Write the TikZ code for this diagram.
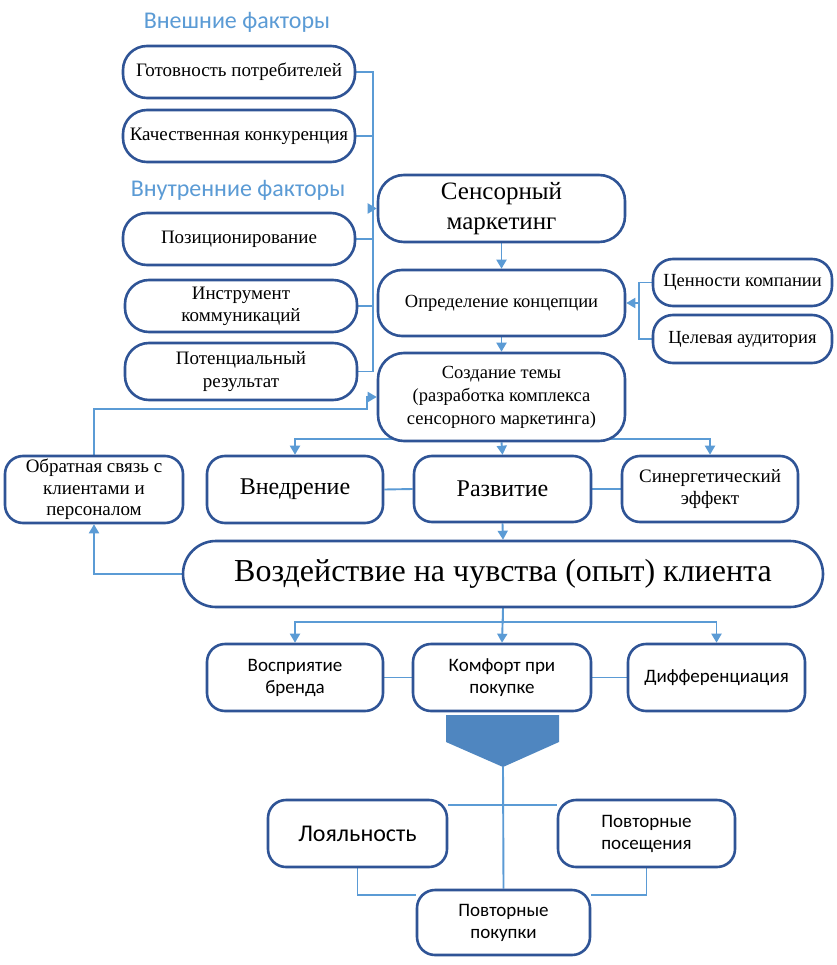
\documentclass[tikz,border=0pt]{standalone}
\usepackage{fontspec}
\setmainfont{Liberation Serif}
\newfontfamily\calfont{Carlito}
\usetikzlibrary{arrows.meta,backgrounds}
\definecolor{bord}{HTML}{2F5496}
\definecolor{conn}{HTML}{5B9BD5}
\definecolor{chev}{HTML}{4F86C0}
\definecolor{ttl}{HTML}{5B9BD5}
\tikzset{
  box/.style={draw=bord, line width=2.6pt, fill=white, rounded corners=#1, align=center, inner sep=0pt, text=black},
  box/.default=18pt,
  sz/.style 2 args={minimum width=#1pt, minimum height=#2pt},
  ttlstyle/.style={text=ttl, font=\calfont\fontsize{24}{27}\selectfont, inner sep=0pt},
  cline/.style={draw=conn, line width=1.9pt},
  arr/.style={cline, -{Triangle[length=9pt,width=10pt]}},
  sans/.style={font=\calfont\fontsize{19}{22}\selectfont},
}
\begin{document}
\begin{tikzpicture}[x=1pt,y=-1pt]
\useasboundingbox (0,0) rectangle (836,965);
% titles
\node[ttlstyle] (ext) at (237,22) {Внешние факторы};
\node[ttlstyle] (int) at (238,190) {Внутренние факторы};
% left factor boxes
\node[box=24pt, sz={232}{52}, font=\fontsize{19}{22}\selectfont] (ready) at (239,72) {Готовность потребителей};
\node[box=24pt, sz={232}{52}, font=\fontsize{19}{22}\selectfont] (compet) at (239,136) {Качественная конкуренция};
\node[box=24pt, sz={232}{52}, font=\fontsize{19}{22}\selectfont] (pos) at (239,239) {Позиционирование};
\node[box=24pt, sz={232}{52}, font=\fontsize{19}{22}\selectfont] (instr) at (241,306) {Инструмент\\коммуникаций};
\node[box=24pt, sz={232}{57}, font=\fontsize{19}{23}\selectfont] (pot) at (241,371.5) {Потенциальный\\результат};
% central column
\node[box=26pt, sz={247}{67}, font=\fontsize{25}{30}\selectfont] (sens) at (501.5,208.5) {Сенсорный\\маркетинг};
\node[box=24pt, sz={247}{66}, font=\fontsize{18.5}{22}\selectfont] (concept) at (501.5,303) {Определение концепции};
\node[box=26pt, sz={247}{88}, font=\fontsize{18.5}{23}\selectfont] (theme) at (501.5,397) {Создание темы\\(разработка комплекса\\сенсорного маркетинга)};
\node[box=20pt, sz={179}{47}, font=\fontsize{18.5}{22}\selectfont] (values) at (742.5,282.5) {Ценности компании};
\node[box=20pt, sz={179}{48}, font=\fontsize{18.5}{22}\selectfont] (aud) at (742.5,339) {Целевая аудитория};
% middle row
\node[box=18pt, sz={178}{67}, font=\fontsize{19}{21.7}\selectfont] (fb) at (94,489.5) {Обратная связь с\\клиентами и\\персоналом};
\node[box=18pt, sz={176}{67}, font=\fontsize{24}{28}\selectfont] (impl) at (295,489.5) {Внедрение};
\node[box=18pt, sz={177}{66}, font=\fontsize{24}{28}\selectfont] (devel) at (502.5,489) {Развитие};
\node[box=18pt, sz={176}{66}, font=\fontsize{19}{22}\selectfont] (syn) at (710,489) {Синергетический\\эффект};
\node[box=33pt, sz={640}{66}, font=\fontsize{32}{36}\selectfont] (impact) at (503,574) {Воздействие на чувства (опыт) клиента};
% lower rows
\node[box=18pt, sz={176}{67}, sans] (brand) at (295,677.5) {Восприятие\\бренда};
\node[box=18pt, sz={178}{67}, sans] (comfort) at (502,677.5) {Комфорт при\\покупке};
\node[box=18pt, sz={177}{67}, sans] (diff) at (716.5,677.5) {Дифференциация};
\fill[chev] (446,715) -- (559,715) -- (559,742) -- (503,767) -- (446,742) -- cycle;
\coordinate (chevtip) at (503,767);
\node[box=18pt, sz={179}{67}, font=\calfont\fontsize{24}{27}\selectfont] (loyal) at (357.5,833.5) {Лояльность};
\node[box=18pt, sz={177}{67}, sans] (visits) at (646.5,833.5) {Повторные\\посещения};
\node[box=18pt, sz={173}{65}, sans] (purch) at (503.5,922.5) {Повторные\\покупки};
% helper coordinates
\coordinate (bus) at (373,0);
\coordinate (rbus) at (639,0);
\coordinate (fbj) at (367,409);
\coordinate (tb) at (0,439);
\coordinate (db) at (0,622);
\coordinate (j1) at (503,805);
\coordinate (j2) at (0,895);
\begin{scope}[on background layer]
\fill[white] (0,0) rectangle (836,965);
% left bus
\draw[cline] (ready.east) -- (ready.east -| bus) -- (pot.east -| bus) -- (pot.east);
\draw[cline] (compet.east) -- (compet.east -| bus);
\draw[cline] (pos.east) -- (pos.east -| bus);
\draw[cline] (instr.east) -- (instr.east -| bus);
\draw[arr] (sens.west -| bus) -- (sens.west);
% central column
\draw[arr] (sens.south) -- (concept.north);
\draw[arr] (concept.south) -- (theme.north);
% right bus
\draw[cline] (values.west) -- (values.west -| rbus) -- (aud.west -| rbus) -- (aud.west);
\draw[arr] (concept.east -| rbus) -- (concept.east);
% feedback loop
\draw[arr] (fb.north) |- (fbj) |- (theme.west);
\draw[arr] (impact.west) -| (fb.south);
% theme distribution
\draw[arr] (theme.center |- tb) -| (impl.north);
\draw[arr] (theme.center |- tb) -| (syn.north);
\draw[arr] (theme.south) -- (devel.north);
\draw[cline] (impl.east) -- (devel.west);
\draw[cline] (devel.east) -- (syn.west);
\draw[arr] (devel.south) -- (impact.north);
% impact distribution
\draw[cline] (impact.south) -- (impact.south |- db);
\draw[arr] (impact.south |- db) -| (brand.north);
\draw[arr] (impact.south |- db) -| (diff.north);
\draw[arr] (impact.south) -- (comfort.north);
\draw[cline] (brand.east) -- (comfort.west);
\draw[cline] (comfort.east) -- (diff.west);
% bottom
\draw[cline] (chevtip) -- (purch.north);
\draw[cline] (j1 -| loyal.east) -- (j1 -| visits.west);
\draw[cline] (loyal.south) |- (j2 -| purch.west);
\draw[cline] (visits.south) |- (j2 -| purch.east);
\end{scope}
\end{tikzpicture}
\end{document}
